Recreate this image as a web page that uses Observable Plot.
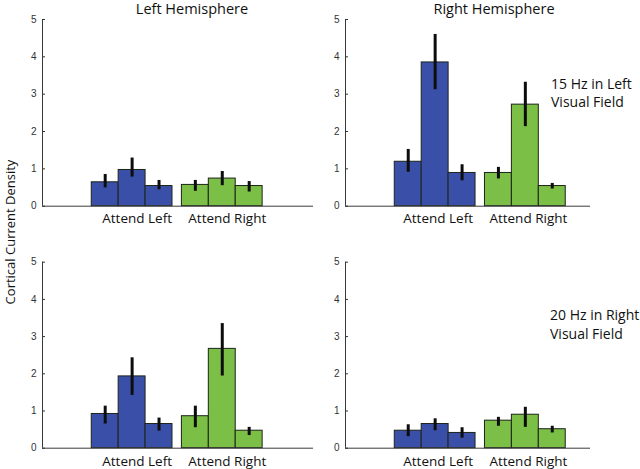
<!DOCTYPE html>
<html>
<head>
<meta charset="utf-8">
<script src="https://cdn.jsdelivr.net/npm/d3@7"></script>
<script src="https://cdn.jsdelivr.net/npm/@observablehq/plot@0.6"></script>
<style>
  html, body { margin: 0; padding: 0; background: #fff; }
  #wrap { position: relative; width: 640px; height: 469px; overflow: hidden; font-family: "Open Sans", sans-serif; color: #111; }
  .p { position: absolute; }
  .t { position: absolute; white-space: nowrap; z-index: 2; }
</style>
</head>
<body>
<div id="wrap"></div>
<script>
// ---- data ----
const groups = ["Attend Left", "Attend Right"];
const panelTitles = ["Left Hemisphere", "Right Hemisphere"];
const rowNotes = [["15 Hz in Left", "Visual Field"], ["20 Hz in Right", "Visual Field"]];
const yLabel = "Cortical Current Density";
const yTicks = [0, 1, 2, 3, 4, 5];

// top-left (15 Hz, left hemisphere)
const tlMean = [0.64, 0.97, 0.54, 0.57, 0.74, 0.54];
const tlLo   = [0.49, 0.78, 0.44, 0.40, 0.55, 0.38];
const tlHi   = [0.85, 1.29, 0.69, 0.69, 0.93, 0.66];
// top-right (15 Hz, right hemisphere)
const trMean = [1.19, 3.85, 0.89, 0.89, 2.72, 0.54];
const trLo   = [0.91, 3.12, 0.68, 0.73, 2.13, 0.46];
const trHi   = [1.52, 4.60, 1.11, 1.04, 3.32, 0.61];
// bottom-left (20 Hz, left hemisphere)
const blMean = [0.92, 1.93, 0.65, 0.86, 2.67, 0.47];
const blLo   = [0.65, 1.42, 0.46, 0.55, 1.94, 0.34];
const blHi   = [1.13, 2.43, 0.81, 1.13, 3.35, 0.56];
// bottom-right (20 Hz, right hemisphere)
const brMean = [0.47, 0.65, 0.41, 0.74, 0.90, 0.51];
const brLo   = [0.31, 0.47, 0.27, 0.59, 0.56, 0.41];
const brHi   = [0.63, 0.79, 0.55, 0.83, 1.10, 0.59];

// ---- drawing ----
const groupColors = ["#3a50a8", "#7bbf47"];
const groupStart = [1.83, 5.18];

function panel(mean, lo, hi, opts) {
  const rows = mean.map((v, k) => ({g: Math.floor(k / 3), i: k % 3, v, lo: lo[k], hi: hi[k]}));
  return Plot.plot({
    width: 320,
    height: opts.height,
    marginLeft: opts.marginLeft,
    marginRight: opts.marginRight,
    marginTop: opts.marginTop,
    marginBottom: opts.marginBottom,
    x: {domain: [0, opts.xMax], axis: null},
    y: {domain: [0, 5], label: null},
    style: {fontFamily: "'Open Sans', sans-serif", background: "transparent", overflow: "visible"},
    marks: [
      Plot.rectY(rows, {
        x1: d => groupStart[d.g] + d.i,
        x2: d => groupStart[d.g] + d.i + 1,
        y1: 0, y2: "v",
        fill: d => groupColors[d.g],
        stroke: "#1c2418", strokeWidth: 1
      }),
      Plot.ruleX(rows, {
        x: d => groupStart[d.g] + d.i + 0.5,
        y1: "lo", y2: "hi",
        stroke: "#0d0d0d", strokeWidth: 3
      }),
      Plot.ruleX([0], {y1: 0, y2: 5, stroke: "#3a3a3a", strokeWidth: 1}),
      Plot.ruleY([0], {stroke: "#3a3a3a", strokeWidth: 1}),
      Plot.axisY({ticks: yTicks, tickSize: 0, tickPadding: 6, fontSize: 10, fontFamily: "'Liberation Sans', Arial, sans-serif", fill: "#333", label: null, tickFormat: d => d}),
      Plot.axisY({ticks: yTicks, tickSize: 3, dx: 3, text: null, stroke: "#333", label: null}),
      Plot.text(groups, {
        x: (d, k) => groupStart[k] + 1.5,
        y: () => 0,
        dy: opts.labelDy,
        dx: (opts.labelDx),
        fontSize: 13.5,
        fill: "#111"
      })
    ]
  });
}

const wrap = document.getElementById("wrap");
function place(node, left, topPx) {
  node.classList.add("p");
  node.style.left = left + "px";
  node.style.top = topPx + "px";
  wrap.appendChild(node);
}
function txt(s, left, topPx, size, anchor) {
  const d = document.createElement("div");
  d.className = "t";
  d.textContent = s;
  d.style.left = left + "px";
  d.style.top = topPx + "px";
  d.style.fontSize = size + "px";
  d.style.lineHeight = "1";
  if (anchor === "middle") d.style.transform = "translate(-50%, -50%)";
  else d.style.transform = "translate(0, -50%)";
  wrap.appendChild(d);
  return d;
}

const topRow = {height: 235, marginTop: 19, marginBottom: 29.3, labelDy: 12};
const botRow = {height: 234, marginTop: 26.7, marginBottom: 21.3, labelDy: 13};
const leftCol = {marginLeft: 42, marginRight: 7, xMax: 10.07, labelDx: 5};
const rightCol = {marginLeft: 25, marginRight: 50, xMax: 9.1, labelDx: 3};

place(panel(tlMean, tlLo, tlHi, {...topRow, ...leftCol}), 0, 0);
place(panel(trMean, trLo, trHi, {...topRow, ...rightCol}), 320, 0);
place(panel(blMean, blLo, blHi, {...botRow, ...leftCol}), 0, 235);
place(panel(brMean, brLo, brHi, {...botRow, ...rightCol}), 320, 235);

txt(panelTitles[0], 192, 9, 14.5, "middle");
txt(panelTitles[1], 494, 9, 14.5, "middle");
txt(rowNotes[0][0], 551, 84, 14, "start");
txt(rowNotes[0][1], 551, 102, 14, "start");
txt(rowNotes[1][0], 550, 315, 14, "start");
txt(rowNotes[1][1], 550, 334, 14, "start");

const yl = txt(yLabel, 9.5, 232, 13, "middle");
yl.style.transform = "translate(-50%, -50%) rotate(-90deg)";
</script>
</body>
</html>
